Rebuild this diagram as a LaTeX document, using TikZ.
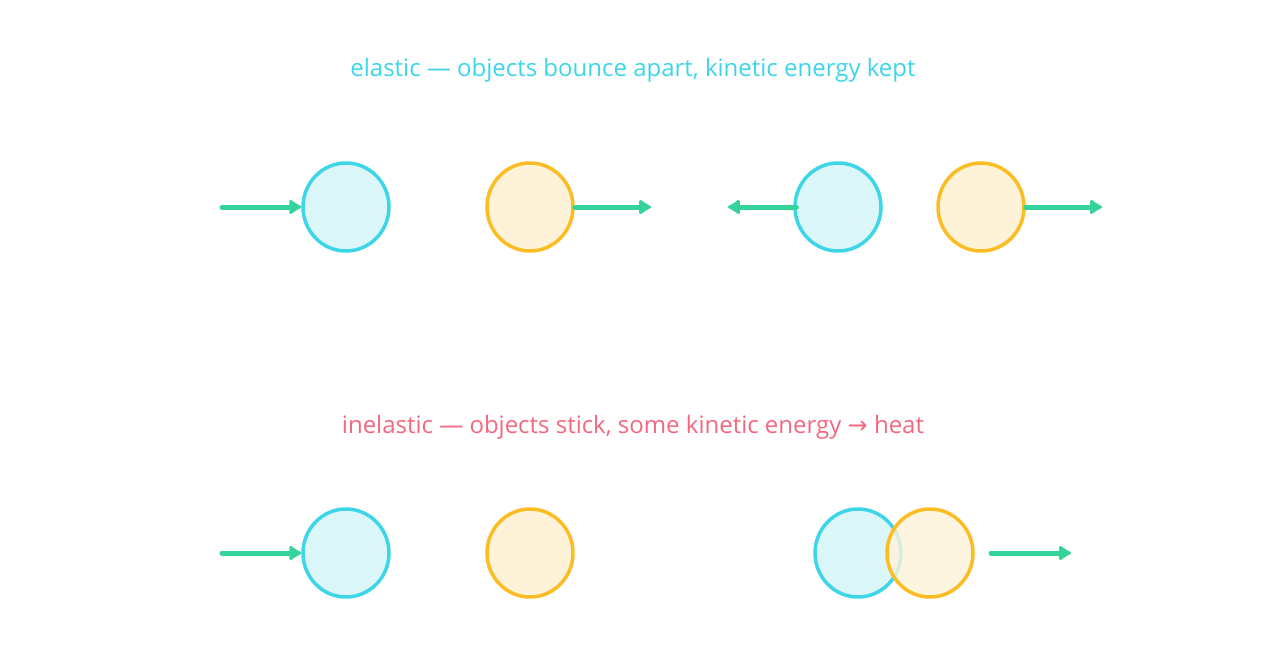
\documentclass[tikz,border=0pt]{standalone}
\usepackage{fontspec}
\setmainfont{Open Sans}
\newfontfamily\symf{DejaVu Sans}
\usetikzlibrary{shapes.geometric,arrows.meta}
\definecolor{cb}{HTML}{3DD5E8}
\definecolor{cbf}{HTML}{DBF7FA}
\definecolor{co}{HTML}{FBBD23}
\definecolor{cof}{HTML}{FEF3D9}
\definecolor{cg}{HTML}{34D399}
\definecolor{cr}{HTML}{F4687F}
\begin{document}
\begin{tikzpicture}[x=1pt,y=-1pt,
  ball/.style={ellipse,minimum width=86pt,minimum height=88pt,line width=3.5pt,inner sep=0pt},
  bb/.style={ball,draw=cb,fill=cbf},
  ob/.style={ball,draw=co,fill=cof},
  arr/.style={draw=cg,line width=5pt,line cap=round,-{Latex[length=14pt,width=18pt,round]}},
  lbl/.style={font=\fontsize{24pt}{28pt}\selectfont}]
\useasboundingbox (0,0) rectangle (1266,666);
\node[lbl,text=cb] (t1) at (633,70) {elastic — objects bounce apart, kinetic energy kept};
\node[lbl,text=cr] (t2) at (633,427) {inelastic — objects stick, some kinetic energy {\symf →} heat};
\node[bb] (a1) at (346,207) {};
\node[ob] (b1) at (530,207) {};
\node[bb] (a2) at (838,207) {};
\node[ob] (b2) at (981,207) {};
\node[bb] (a3) at (346,553) {};
\node[ob] (b3) at (530,553) {};
\node[bb] (a4) at (858,553) {};
\node[ob,fill opacity=0.8] (b4) at (930,553) {};
\coordinate (s1) at (222,207);
\coordinate (e2) at (651,207);
\coordinate (e3) at (728,207);
\coordinate (e4) at (1102,207);
\coordinate (s5) at (222,553);
\coordinate (s6) at (991,553);
\coordinate (e6) at (1071,553);
\draw[arr] (s1) -- (a1.west);
\draw[arr] (b1.east) -- (e2);
\draw[arr] (a2.west) ++(3,0) -- (e3);
\draw[arr] (b2.east) -- (e4);
\draw[arr] (s5) -- (a3.west);
\draw[arr] (s6) -- (e6);
\end{tikzpicture}
\end{document}
